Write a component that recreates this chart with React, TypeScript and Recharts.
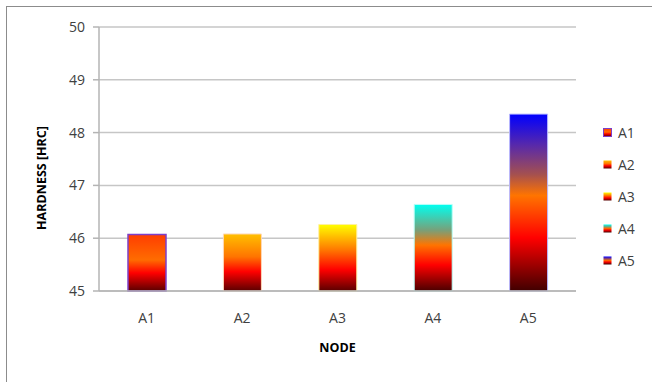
import React from 'react';
import { BarChart, Bar, XAxis, YAxis, CartesianGrid, Cell, Label } from 'recharts';

const nodes = ['A1', 'A2', 'A3', 'A4', 'A5'];
const hardness = [46.07, 46.08, 46.26, 46.64, 48.35];
const yTicks = [45, 46, 47, 48, 49, 50];

// fire-style fills, top to bottom, one per node
const fills: Array<Array<[number, string]>> = [
  [[0, '#ff3d00'], [0.45, '#ff6c00'], [0.68, '#ff0000'], [1, '#5a0000']],
  [[0, '#ffc000'], [0.4, '#ff7400'], [0.66, '#ff0000'], [1, '#5a0000']],
  [[0, '#ffff00'], [0.38, '#ff7800'], [0.68, '#ff0000'], [1, '#5a0000']],
  [[0, '#00fff0'], [0.3, '#7a9f78'], [0.47, '#ff7400'], [0.7, '#ff0000'], [1, '#4a0000']],
  [[0, '#0000ff'], [0.18, '#5a2aa8'], [0.34, '#a45050'], [0.46, '#ff7400'], [0.7, '#ff0000'], [1, '#400000']],
];
const strokes = ['#7d3fc8', '#ffd8b8', '#fff0a0', '#b8fff8', '#b8b8ff'];

const data = nodes.map((n, i) => ({ node: n, hardness: hardness[i] }));

const font = '"Open Sans", sans-serif';

function LegendBox() {
  return (
    <div
      style={{
        position: 'absolute',
        left: 603,
        top: 116,
        fontFamily: font,
        fontSize: 14,
        color: '#404040',
      }}
    >
      {nodes.map((n, i) => (
        <div key={n} style={{ display: 'flex', alignItems: 'center', height: 32 }}>
          <svg width={9} height={9} style={{ marginRight: 6 }}>
            <rect
              x={0.5}
              y={0.5}
              width={8}
              height={8}
              fill={`url(#g${i})`}
              stroke={i === 0 ? strokes[0] : 'none'}
            />
          </svg>
          {n}
        </div>
      ))}
    </div>
  );
}

export default function App() {
  return (
    <div style={{ position: 'absolute', left: 0, top: 0, width: 652, height: 382, background: '#fff', overflow: 'hidden' }}>
      <div
        style={{
          position: 'absolute',
          left: 6,
          top: 6,
          width: 660,
          height: 400,
          border: '1.5px solid #8c8c8c',
          boxSizing: 'border-box',
        }}
      />
      <BarChart
        width={652}
        height={382}
        data={data}
        barSize={38}
        margin={{ top: 27, right: 76, left: 0, bottom: 61 }}
        style={{ position: 'absolute', left: 0, top: 0 }}
      >
        <defs>
          {fills.map((stops, i) => (
            <linearGradient key={i} id={`g${i}`} x1="0" y1="0" x2="0" y2="1">
              {stops.map(([o, c], j) => (
                <stop key={j} offset={o} stopColor={c} />
              ))}
            </linearGradient>
          ))}
        </defs>
        <CartesianGrid vertical={false} stroke="#c6c6c6" strokeWidth={1.5} />
        <XAxis
          dataKey="node"
          height={30}
          axisLine={{ stroke: '#b4b4b4', strokeWidth: 1.5 }}
          tickLine={false}
          tick={{ fill: '#404040', fontSize: 14, fontFamily: font }}
          tickMargin={16}
        >
          <Label
            value="NODE"
            position="bottom"
            offset={22}
            style={{ fill: '#000', fontSize: 12.5, fontWeight: 700, fontFamily: font }}
          />
        </XAxis>
        <YAxis
          width={99}
          domain={[45, 50]}
          ticks={yTicks}
          interval={0}
          axisLine={{ stroke: '#b4b4b4', strokeWidth: 1.5 }}
          tickLine={{ stroke: '#b4b4b4', strokeWidth: 1.5 }}
          tickSize={6}
          tickMargin={8}
          tick={{ fill: '#404040', fontSize: 14, fontFamily: font }}
        >
          <Label
            value="HARDNESS [HRC]"
            angle={-90}
            position="insideLeft"
            offset={42}
            dy={19}
            style={{ fill: '#000', fontSize: 12.5, fontWeight: 700, fontFamily: font, textAnchor: 'middle' }}
          />
        </YAxis>
        <Bar dataKey="hardness" isAnimationActive={false}>
          {data.map((d, i) => (
            <Cell key={d.node} fill={`url(#g${i})`} stroke={strokes[i]} strokeWidth={i === 0 ? 1.5 : 1} />
          ))}
        </Bar>
      </BarChart>
      <LegendBox />
    </div>
  );
}
